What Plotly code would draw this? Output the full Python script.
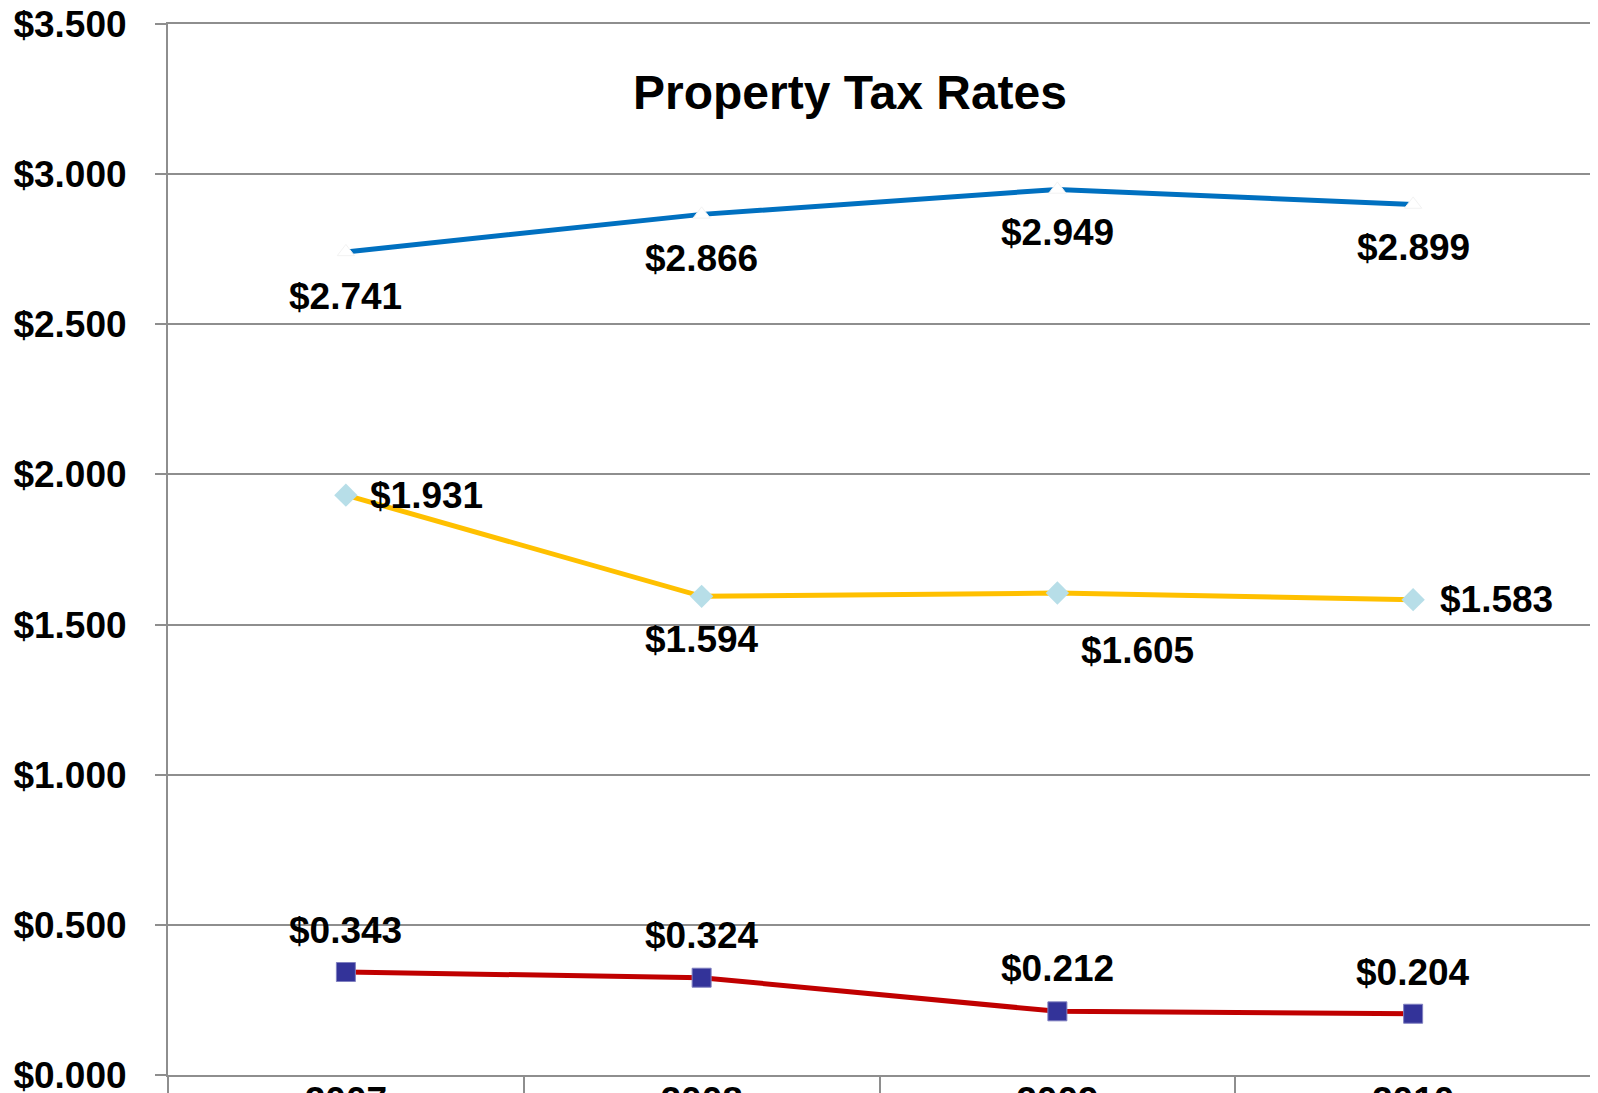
import plotly.graph_objects as go

# ---------------------------------------------------------------------------
# Data
# ---------------------------------------------------------------------------
years = ["2007", "2008", "2009", "2010"]
rate_total = [2.741, 2.866, 2.949, 2.899]
rate_general = [1.931, 1.594, 1.605, 1.583]
rate_debt = [0.343, 0.324, 0.212, 0.204]

# label offsets (px) per point: (xshift, yshift)
total_shift = [(0, -45), (0, -44), (0, -43), (0, -43)]
general_shift = [(81, 0), (0, -43), (80, -57), (83, 0)]
debt_shift = [(0, 42), (0, 42), (0, 43), (0, 41)]

FONT = "Liberation Sans, Arial, sans-serif"
GRID = "#8e8e8e"

fig = go.Figure()

fig.add_trace(go.Scatter(
    x=years, y=rate_total, mode="lines+markers", name="Total",
    line=dict(color="#0070C0", width=5),
    marker=dict(symbol="triangle-up", size=15, color="white",
                line=dict(color="#f2f2f2", width=1)),
))
fig.add_trace(go.Scatter(
    x=years, y=rate_general, mode="lines+markers", name="General",
    line=dict(color="#FFC000", width=5),
    marker=dict(symbol="diamond", size=18, color="#B7DEE8"),
))
fig.add_trace(go.Scatter(
    x=years, y=rate_debt, mode="lines+markers", name="Debt",
    line=dict(color="#C00000", width=5),
    marker=dict(symbol="square", size=19, color="#333399",
                line=dict(color="#8080c0", width=1)),
))

# data labels
for vals, shifts in [(rate_total, total_shift),
                     (rate_general, general_shift),
                     (rate_debt, debt_shift)]:
    for i, (v, (dx, dy)) in enumerate(zip(vals, shifts)):
        fig.add_annotation(
            xref="x", yref="y", x=i, y=v,
            text="<b>$%.3f</b>" % v, showarrow=False,
            xshift=dx, yshift=dy, xanchor="center", yanchor="middle",
            font=dict(family=FONT, size=37, color="black"),
        )

fig.add_annotation(
    xref="paper", yref="paper", x=0.479, y=0.935,
    text="<b>Property Tax Rates</b>", showarrow=False,
    xanchor="center", yanchor="middle",
    font=dict(family=FONT, size=48, color="black"),
)

# page body has an 8px margin, so the figure is sized to fit the window
fig.update_layout(
    width=1590, height=1085,
    margin=dict(l=160, r=7, t=16, b=18),
    plot_bgcolor="white", paper_bgcolor="white",
    showlegend=False,
)

fig.update_yaxes(
    range=[0, 3.5], dtick=0.5, tickprefix="$", tickformat=".3f",
    showgrid=True, gridcolor=GRID, gridwidth=2,
    showline=True, linecolor=GRID, linewidth=2,
    ticks="outside", ticklen=11, tickcolor=GRID, tickwidth=2,
    ticklabelstandoff=21, automargin=False, ticklabeloverflow="allow",
    tickfont=dict(family=FONT, size=37, color="black", weight="bold"),
    zeroline=False,
)
fig.update_xaxes(
    type="category", range=[-0.5, 3.5],
    showline=True, linecolor=GRID, linewidth=2, mirror=True,
    tickson="boundaries", ticks="outside", ticklen=20,
    tickcolor=GRID, tickwidth=2,
    ticklabelstandoff=-8, automargin=False, ticklabeloverflow="allow",
    tickfont=dict(family=FONT, size=37, color="black", weight="bold"),
    showgrid=False,
)

fig.write_html("out.html")
